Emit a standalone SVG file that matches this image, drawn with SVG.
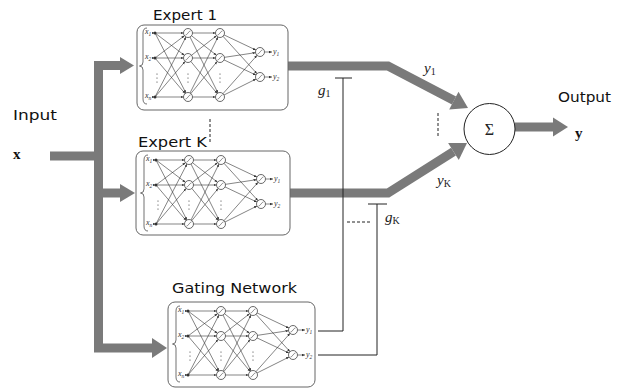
<svg xmlns="http://www.w3.org/2000/svg" xmlns:xlink="http://www.w3.org/1999/xlink" width="623" height="389" viewBox="0 0 623 389">
<style>
.bar{fill:none;stroke:#7a7a7a;stroke-width:9;stroke-linejoin:miter}
.head{fill:#7a7a7a}
.thin{fill:none;stroke:#222;stroke-width:1}
.dash{fill:none;stroke:#222;stroke-width:1;stroke-dasharray:3,2}
.title{font-family:"DejaVu Sans","Liberation Sans",sans-serif;font-size:14px;fill:#111}
.math{font-family:"Liberation Serif",serif;font-style:italic;font-size:15px;fill:#222}
.sub{font-size:10px;font-style:normal}
.box{fill:#fff;stroke:#666;stroke-width:1}
.e{stroke:#333;stroke-width:0.6}
.nl{font-family:"Liberation Serif",serif;font-style:italic;font-size:8px;fill:#333}
.ns{font-size:5.5px}
</style>
<defs>
<marker id="ah" markerUnits="userSpaceOnUse" markerWidth="8" markerHeight="3" refX="7.5" refY="1.2" orient="auto">
<path d="M0,0 L3,1.2 L0,2.4 z" fill="#333"/>
</marker>
<marker id="ah0" markerUnits="userSpaceOnUse" markerWidth="3" markerHeight="3" refX="3" refY="1.2" orient="auto">
<path d="M0,0 L3,1.2 L0,2.4 z" fill="#333"/>
</marker>
<g id="nr"><circle r="4.5" fill="#fff" stroke="#444" stroke-width="0.8"/><path d="M-2.6,2.2 C-0.8,2.2 0.8,-2.2 2.6,-2.2" fill="none" stroke="#444" stroke-width="0.6"/></g>
<g id="net">
<path d="M10,3 Q6,3 6,8 V37 Q6,41 2.5,41 Q6,41 6,45 V74 Q6,79 10,79" fill="none" stroke="#333" stroke-width="0.7"/>
<g class="e" marker-end="url(#ah)">
<line x1="18" y1="8" x2="51" y2="8"/><line x1="18" y1="8" x2="51" y2="33"/><line x1="18" y1="8" x2="51" y2="72"/>
<line x1="18" y1="33" x2="51" y2="8"/><line x1="18" y1="33" x2="51" y2="33"/><line x1="18" y1="33" x2="51" y2="72"/>
<line x1="18" y1="72" x2="51" y2="8"/><line x1="18" y1="72" x2="51" y2="33"/><line x1="18" y1="72" x2="51" y2="72"/>
<line x1="51" y1="8" x2="83" y2="8"/><line x1="51" y1="8" x2="83" y2="33"/><line x1="51" y1="8" x2="83" y2="72"/>
<line x1="51" y1="33" x2="83" y2="8"/><line x1="51" y1="33" x2="83" y2="33"/><line x1="51" y1="33" x2="83" y2="72"/>
<line x1="51" y1="72" x2="83" y2="8"/><line x1="51" y1="72" x2="83" y2="33"/><line x1="51" y1="72" x2="83" y2="72"/>
<line x1="83" y1="8" x2="123" y2="27"/><line x1="83" y1="8" x2="123" y2="52"/>
<line x1="83" y1="33" x2="123" y2="27"/><line x1="83" y1="33" x2="123" y2="52"/>
<line x1="83" y1="72" x2="123" y2="27"/><line x1="83" y1="72" x2="123" y2="52"/>
</g>
<g class="e" marker-end="url(#ah0)">
<line x1="127.5" y1="27" x2="135" y2="27"/><line x1="127.5" y1="52" x2="135" y2="52"/>
<line x1="15" y1="8" x2="17.5" y2="8"/><line x1="15" y1="33" x2="17.5" y2="33"/><line x1="15" y1="72" x2="17.5" y2="72"/>
</g>
<g fill="#333"><circle cx="18" cy="8" r="1.5"/><circle cx="18" cy="33" r="1.5"/><circle cx="18" cy="72" r="1.5"/>
<circle cx="20" cy="49" r="0.6"/><circle cx="20" cy="53" r="0.6"/><circle cx="20" cy="57" r="0.6"/>
<circle cx="51" cy="49" r="0.6"/><circle cx="51" cy="53" r="0.6"/><circle cx="51" cy="57" r="0.6"/>
<circle cx="83" cy="49" r="0.6"/><circle cx="83" cy="53" r="0.6"/><circle cx="83" cy="57" r="0.6"/></g>
<use xlink:href="#nr" x="51" y="8"/><use xlink:href="#nr" x="51" y="33"/><use xlink:href="#nr" x="51" y="72"/>
<use xlink:href="#nr" x="83" y="8"/><use xlink:href="#nr" x="83" y="33"/><use xlink:href="#nr" x="83" y="72"/>
<use xlink:href="#nr" x="123" y="27"/><use xlink:href="#nr" x="123" y="52"/>
<text class="nl" x="8" y="9">x<tspan class="ns" dy="1.5">1</tspan></text>
<text class="nl" x="8" y="34">x<tspan class="ns" dy="1.5">2</tspan></text>
<text class="nl" x="8" y="73">x<tspan class="ns" dy="1.5">n</tspan></text>
<text class="nl" x="136" y="29">y<tspan class="ns" dy="1.5">1</tspan></text>
<text class="nl" x="136" y="54">y<tspan class="ns" dy="1.5">2</tspan></text>
</g>
</defs>
<rect width="623" height="389" fill="#fff"/>

<g id="connectors">
<path class="bar" d="M121,65.5 H98.5 V348 H153"/>
<path class="bar" d="M98.5,193 H121"/>
<path class="bar" d="M50,156 H98.5"/>
<polygon class="head" points="120,57 134,65.5 120,74"/>
<polygon class="head" points="120,184 135,193 120,202"/>
<polygon class="head" points="152,338 167,348 152,358"/>
<path class="bar" d="M288,66 H388 L454,100.6"/>
<polygon class="head" points="449.2,109.4 458.5,91.8 468,108"/>
<path class="bar" d="M290,193 H388 L453.5,151.6"/>
<polygon class="head" points="458.8,160 448.1,143.1 467,143"/>
<path class="bar" d="M515,127 H554"/>
<polygon class="head" points="553,117.5 568,127 553,136.5"/>
<path class="thin" d="M318,331 H343 V78 M335,78 H352"/>
<path class="thin" d="M318,355 H377 V204 M368,204 H387"/>
<path class="dash" d="M347,222 H370"/>
<path class="dash" d="M438,113 V138"/>
<path class="dash" d="M210,119 V142"/>
</g>

<g id="expert1">
<rect class="box" x="137" y="25" width="151" height="85" rx="7"/>
<use xlink:href="#net" transform="translate(137,25)"/>
<text class="title" x="153" y="20" textLength="64" lengthAdjust="spacingAndGlyphs">Expert 1</text>
</g>
<g id="expertK">
<rect class="box" x="136" y="151" width="154" height="84" rx="7"/>
<use xlink:href="#net" transform="translate(138,152)"/>
<text class="title" x="138" y="146.5" textLength="69" lengthAdjust="spacingAndGlyphs">Expert K</text>
</g>
<g id="gating">
<rect class="box" x="168" y="302" width="147" height="85" rx="7"/>
<use xlink:href="#net" transform="translate(170,303)"/>
<text class="title" x="172" y="293" textLength="125" lengthAdjust="spacingAndGlyphs">Gating Network</text>
</g>
<g id="sum">
<circle cx="489.5" cy="129" r="25.5" fill="#fff" stroke="#222" stroke-width="1"/>
<text x="489.5" y="134.5" text-anchor="middle" style="font-family:'Liberation Serif',serif;font-size:16px;fill:#222">Σ</text>
</g>
<g id="input">
<text class="title" x="13" y="120" textLength="44" lengthAdjust="spacingAndGlyphs">Input</text>
<text x="13" y="159" style="font-family:'Liberation Serif',serif;font-weight:bold;font-size:15px;fill:#111">x</text>
</g>
<g id="output">
<text class="title" x="558" y="102" textLength="53" lengthAdjust="spacingAndGlyphs">Output</text>
<text x="575" y="138" style="font-family:'Liberation Serif',serif;font-weight:bold;font-size:15px;fill:#111">y</text>
</g>
<g id="labels">
<text class="math" x="318" y="95">g<tspan class="sub" dy="2">1</tspan></text>
<text class="math" x="424" y="73">y<tspan class="sub" dy="2">1</tspan></text>
<text class="math" x="437" y="185">y<tspan class="sub" dy="2" font-style="italic">K</tspan></text>
<text class="math" x="385" y="222">g<tspan class="sub" dy="2" font-style="italic">K</tspan></text>
</g>
</svg>
